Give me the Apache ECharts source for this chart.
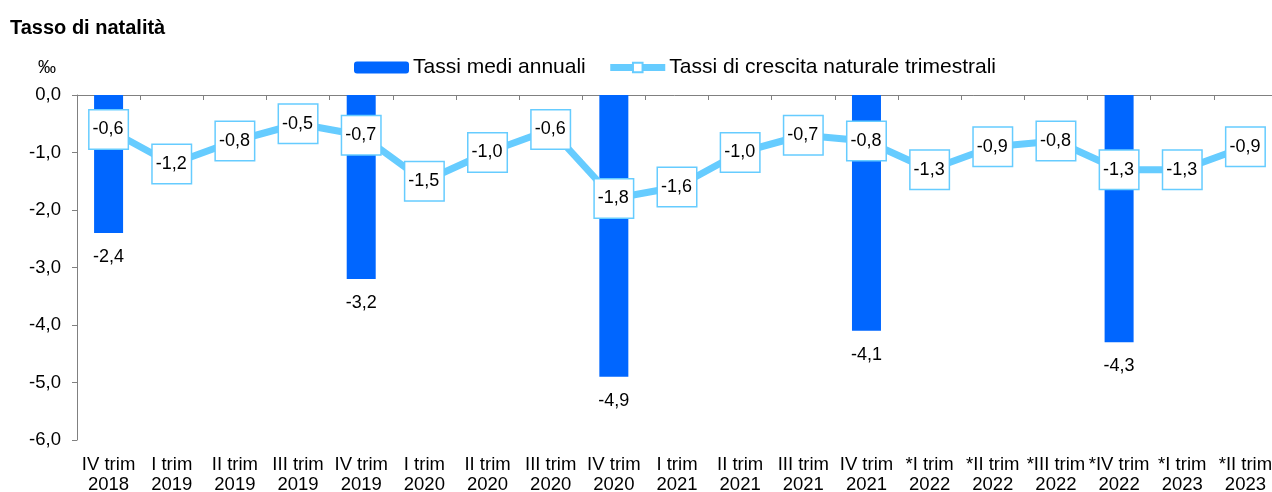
<!DOCTYPE html>
<html><head><meta charset="utf-8">
<script src="https://cdn.jsdelivr.net/npm/echarts@6/dist/echarts.min.js"></script>
<style>html,body{margin:0;padding:0;background:#fff}#c{width:1272px;height:492px}</style>
</head><body><div id="c"></div>
<script>
var categories = ["IV trim\n2018","I trim\n2019","II trim\n2019","III trim\n2019","IV trim\n2019","I trim\n2020","II trim\n2020","III trim\n2020","IV trim\n2020","I trim\n2021","II trim\n2021","III trim\n2021","IV trim\n2021","*I trim\n2022","*II trim\n2022","*III trim\n2022","*IV trim\n2022","*I trim\n2023","*II trim\n2023"];
var annualRates = [-2.4,null,null,null,-3.2,null,null,null,-4.9,null,null,null,-4.1,null,null,null,-4.3,null,null];
var quarterlyRates = [-0.6,-1.2,-0.8,-0.5,-0.7,-1.5,-1.0,-0.6,-1.8,-1.6,-1.0,-0.7,-0.8,-1.3,-0.9,-0.8,-1.3,-1.3,-0.9];
var yTicks = [0,-1,-2,-3,-4,-5,-6];
var seriesNames = ["Tassi medi annuali","Tassi di crescita naturale trimestrali"];

var FONT = "Liberation Sans, Arial, sans-serif";
function fmt(v){ return v.toFixed(1).replace('.', ','); }

var chart = echarts.init(document.getElementById('c'), null, {renderer:'canvas'});
chart.setOption({
  animation:false,
  textStyle:{fontFamily:FONT},
  graphic:[
    {type:'text', left:10, top:18, style:{text:'Tasso di natalità', font:'bold 20px '+FONT, fill:'#000'}},
    {type:'text', left:38, top:59, style:{text:'‰', font:'18px '+FONT, fill:'#000'}}
  ],
  legend:{
    left:349, top:52, itemWidth:55, itemHeight:12, itemGap:21,
    textStyle:{fontSize:21, color:'#000', fontFamily:FONT, padding:[0,0,0,-1]},
    data:[{name:seriesNames[0]},{name:seriesNames[1], lineStyle:{width:7, color:'#66CCFF'}}]
  },
  grid:{left:77, top:95, right:-5, bottom:52, containLabel:false, outerBoundsMode:'none'},
  xAxis:[
    {type:'category', data:categories, position:'top',
     axisLine:{show:true, onZero:false, lineStyle:{color:'#808080', width:1}},
     axisTick:{show:true, inside:true, length:5, lineStyle:{color:'#808080'}},
     axisLabel:{show:false}, splitLine:{show:false}},
    {type:'category', data:categories, position:'bottom',
     axisLine:{show:false}, axisTick:{show:false},
     axisLabel:{show:true, interval:0, margin:15, color:'#000', fontSize:18.5, lineHeight:20, fontFamily:FONT}}
  ],
  yAxis:{
    type:'value', min:-6, max:0, interval:1,
    axisLine:{show:true, lineStyle:{color:'#808080'}},
    axisTick:{show:true, length:5, lineStyle:{color:'#808080'}},
    splitLine:{show:false},
    axisLabel:{color:'#000', fontSize:18.5, margin:16, fontFamily:FONT, formatter:function(v){return fmt(v);}}
  },
  series:[
    {name:seriesNames[0], type:'bar', xAxisIndex:0, data:annualRates, barWidth:29,
     itemStyle:{color:'#0066FF'},
     label:{show:true, position:'bottom', distance:15, color:'#000', fontSize:18, fontFamily:FONT,
            formatter:function(p){return fmt(p.value);}}, z:2},
    {name:seriesNames[1], type:'line', xAxisIndex:0, data:quarterlyRates,
     symbol:'rect', symbolSize:8, showAllSymbol:true,
     lineStyle:{color:'#66CCFF', width:7},
     itemStyle:{color:'#fff', borderColor:'#66CCFF', borderWidth:1.5},
     label:{show:true, position:'inside', color:'#000', fontSize:18, fontFamily:FONT,
            backgroundColor:'#fff', borderColor:'#66CCFF', borderWidth:1.5,
            padding:[9,4,9,3], lineHeight:20,
            formatter:function(p){return fmt(p.value);}},
     z:5}
  ]
});
</script></body></html>
